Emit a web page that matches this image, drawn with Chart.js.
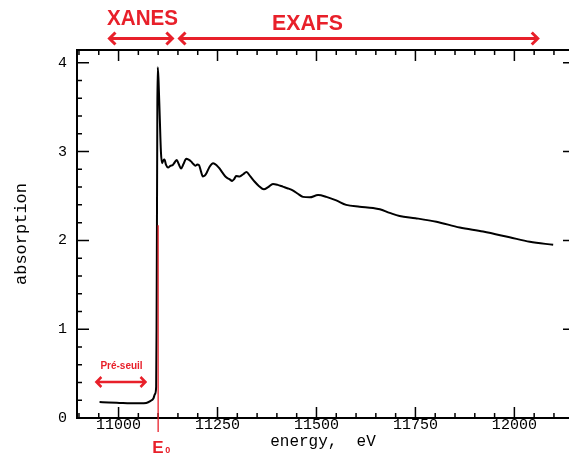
<!DOCTYPE html>
<html>
<head>
<meta charset="utf-8">
<script src="https://cdn.jsdelivr.net/npm/chart.js@4.4.0/dist/chart.umd.min.js"></script>
<style>
  html, body { margin: 0; padding: 0; background: #fff; overflow: hidden; }
  #graficoXAS { position: absolute; left: 0; top: 0; }
</style>
</head>
<body>
<canvas id="graficoXAS" width="569" height="456"></canvas>
<script>
// spectre d'absorption X
const energie = [
  10952, 10975, 11002, 11030, 11055, 11070, 11080, 11088, 11092, 11095,
  11096, 11097, 11098, 11099, 11101, 11104, 11107, 11110, 11113, 11116,
  11120, 11125, 11131, 11137, 11142, 11147, 11152, 11158, 11164, 11171,
  11177, 11183, 11189, 11194, 11199, 11203, 11208, 11213, 11218, 11222,
  11230, 11239, 11247, 11255, 11263, 11272, 11280, 11287, 11292, 11297,
  11306, 11315, 11323, 11333, 11344, 11355, 11367, 11378, 11390, 11402,
  11415, 11428, 11441, 11453, 11466, 11483, 11504, 11525, 11550, 11575,
  11609, 11643, 11660, 11685, 11710, 11750, 11803, 11862, 11921, 11988,
  12039, 12098
];
const absorption = [
  0.18, 0.175, 0.17, 0.165, 0.165, 0.17, 0.19, 0.22, 0.27, 0.35,
  1.0, 2.2, 3.5, 3.95, 3.8, 3.4, 3.0, 2.87, 2.9, 2.91,
  2.85, 2.82, 2.84, 2.85, 2.88, 2.905, 2.86, 2.81, 2.86, 2.92,
  2.91, 2.89, 2.86, 2.84, 2.855, 2.85, 2.78, 2.72, 2.73, 2.755,
  2.83, 2.87, 2.85, 2.81, 2.76, 2.71, 2.69, 2.67, 2.69, 2.725,
  2.72, 2.745, 2.77, 2.72, 2.66, 2.61, 2.575, 2.6, 2.635, 2.625,
  2.605, 2.585, 2.56, 2.525, 2.49, 2.485, 2.51, 2.49, 2.45, 2.40,
  2.38, 2.365, 2.35, 2.31, 2.275, 2.25, 2.21, 2.145, 2.10, 2.035,
  1.985, 1.95
];

const xTicks = [11000, 11250, 11500, 11750, 12000];
const yTicks = [0, 1, 2, 3, 4];
const E0 = 11100;
const zoneXanes = [10977, 11136];
const zoneExafs = [11154, 12059];
const zonePreSeuil = [10944, 11068];

const points = energie.map((e, i) => ({ x: e, y: absorption[i] }));
const ROUGE = "#e8202a";
const monoFont = "'Liberation Mono', 'DejaVu Sans Mono', monospace";

function fleche(ctx, x1, x2, y, head) {
  ctx.beginPath();
  ctx.moveTo(x1, y); ctx.lineTo(x2, y);
  ctx.moveTo(x1 + head, y - head); ctx.lineTo(x1, y); ctx.lineTo(x1 + head, y + head);
  ctx.moveTo(x2 - head, y - head); ctx.lineTo(x2, y); ctx.lineTo(x2 - head, y + head);
  ctx.stroke();
}

function texte(ctx, str, cx, cy, font, largeur) {
  ctx.save();
  ctx.font = font;
  ctx.textAlign = "center";
  ctx.textBaseline = "middle";
  const w = ctx.measureText(str).width;
  ctx.translate(cx, cy);
  if (largeur) ctx.scale(largeur / w, 1);
  ctx.fillText(str, 0, 0);
  ctx.restore();
}

// cadre (bord droit hors image) + graduations vers l'interieur
const cadrePlugin = {
  id: "cadre",
  afterDatasetsDraw(chart) {
    const ctx = chart.ctx;
    const a = chart.chartArea;
    const xs = chart.scales.x, ys = chart.scales.y;
    ctx.save();
    ctx.strokeStyle = "#000";
    ctx.lineWidth = 2;
    ctx.beginPath();
    ctx.moveTo(a.right + 2, a.top);
    ctx.lineTo(a.left, a.top);
    ctx.lineTo(a.left, a.bottom);
    ctx.lineTo(a.right + 2, a.bottom);
    ctx.stroke();
    ctx.lineWidth = 1.5;
    ctx.beginPath();
    for (let v = 10900; v <= xs.max; v += 50) {
      const px = xs.getPixelForValue(v);
      const len = (v % 250 === 0) ? 11 : 5;
      ctx.moveTo(px, a.bottom); ctx.lineTo(px, a.bottom - len);
      ctx.moveTo(px, a.top); ctx.lineTo(px, a.top + len);
    }
    for (let v = 0; v <= ys.max + 1e-9; v += 0.2) {
      const py = ys.getPixelForValue(v);
      const major = Math.abs(v - Math.round(v)) < 1e-6;
      ctx.moveTo(a.left, py); ctx.lineTo(a.left + (major ? 12 : 5), py);
      if (major) { ctx.moveTo(a.right + 2, py); ctx.lineTo(a.right - 6, py); }
    }
    ctx.stroke();
    ctx.restore();
  },
  afterDraw(chart) {
    const ctx = chart.ctx;
    const xs = chart.scales.x, ys = chart.scales.y;
    ctx.save();
    ctx.strokeStyle = ROUGE;
    ctx.fillStyle = ROUGE;

    // E0
    const xe = xs.getPixelForValue(E0);
    ctx.lineWidth = 1.3;
    ctx.beginPath();
    ctx.moveTo(xe, ys.getPixelForValue(2.17));
    ctx.lineTo(xe, ys.getPixelForValue(0) + 14);
    ctx.stroke();
    ctx.font = "bold 17px 'Liberation Sans', Arial, sans-serif";
    ctx.textAlign = "left";
    ctx.textBaseline = "alphabetic";
    ctx.fillText("E", xe - 6, 453);
    ctx.font = "bold 9px 'Liberation Sans', Arial, sans-serif";
    ctx.fillText("0", xe + 7, 453);

    // XANES / EXAFS
    ctx.lineWidth = 3;
    fleche(ctx, xs.getPixelForValue(zoneXanes[0]), xs.getPixelForValue(zoneXanes[1]), 38.5, 6);
    fleche(ctx, xs.getPixelForValue(zoneExafs[0]), xs.getPixelForValue(zoneExafs[1]), 38.5, 6);
    const fontTitre = "bold 22px 'Liberation Sans', Arial, sans-serif";
    texte(ctx, "XANES", 142.5, 18.5, fontTitre, 71);
    texte(ctx, "EXAFS", 307.5, 24, fontTitre, 71);

    // pre-seuil
    ctx.lineWidth = 2.5;
    fleche(ctx, xs.getPixelForValue(zonePreSeuil[0]), xs.getPixelForValue(zonePreSeuil[1]), 382, 5);
    texte(ctx, "Pré-seuil", 121.5, 366, "bold 10px 'Liberation Sans', Arial, sans-serif");
    ctx.restore();
  }
};

new Chart(document.getElementById("graficoXAS"), {
  type: "line",
  data: {
    datasets: [{
      label: "absorption",
      data: points,
      borderColor: "#000",
      borderWidth: 2,
      pointRadius: 0,
      tension: 0.25,
      cubicInterpolationMode: "monotone",
      fill: false
    }]
  },
  options: {
    responsive: false,
    animation: false,
    layout: { padding: { top: 50, right: 0, left: 0, bottom: 0 } },
    plugins: {
      legend: { display: false },
      tooltip: { enabled: false }
    },
    scales: {
      x: {
        type: "linear",
        min: 10895,
        max: 12138,
        grid: { display: false, drawTicks: false },
        border: { display: false },
        afterBuildTicks: s => { s.ticks = xTicks.map(v => ({ value: v })); },
        afterFit: s => { s.height = 38; },
        ticks: {
          padding: 0,
          color: "#000",
          maxRotation: 0,
          font: { family: monoFont, size: 15, lineHeight: 1 },
          callback: v => String(v)
        },
        title: {
          display: true,
          text: "energy,  eV",
          color: "#000",
          font: { family: monoFont, size: 16 },
          padding: { top: 0, bottom: 5 }
        }
      },
      y: {
        min: 0,
        max: 4.144,
        grid: { display: false, drawTicks: false },
        border: { display: false },
        afterBuildTicks: s => { s.ticks = yTicks.map(v => ({ value: v })); },
        afterFit: s => { s.width = 77; },
        ticks: {
          padding: 10,
          color: "#000",
          font: { family: monoFont, size: 15 },
          callback: v => String(v)
        },
        title: {
          display: true,
          text: "absorption",
          color: "#000",
          font: { family: monoFont, size: 17 },
          padding: { top: 11, bottom: 0 }
        }
      }
    }
  },
  plugins: [cadrePlugin]
});
</script>
</body>
</html>
